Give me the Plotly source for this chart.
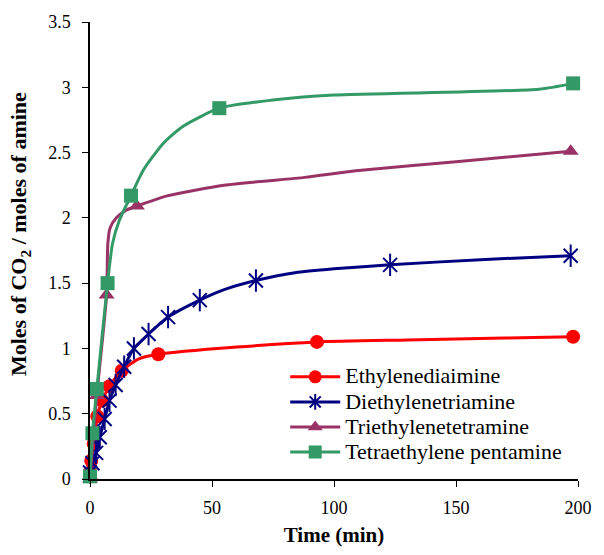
import plotly.graph_objects as go

# Ethylenediamine
eda_x = [0, 0.5, 1.5, 3, 5, 8, 13, 28, 93, 198]
eda_y = [0.05, 0.14, 0.27, 0.48, 0.6, 0.71, 0.83, 0.955, 1.05, 1.09]
eda_line_x = [0, 0.5, 1.5, 3, 5, 8, 13, 20, 28, 60, 93, 130, 170, 198]
eda_line_y = [0.05, 0.14, 0.27, 0.48, 0.6, 0.71, 0.83, 0.92, 0.955, 1.01, 1.05, 1.065, 1.08, 1.09]

# Diethylenetriamine
deta_x = [0, 1, 2.5, 4, 6, 8, 10.5, 14, 18, 24, 32, 45, 68, 123, 197]
deta_y = [0.05, 0.12, 0.2, 0.32, 0.46, 0.6, 0.72, 0.86, 1.0, 1.11, 1.24, 1.37, 1.52, 1.64, 1.71]
deta_line_x = [0, 1, 2.5, 4, 6, 8, 10.5, 14, 18, 24, 32, 45, 55, 68, 84, 100, 123, 160, 197]
deta_line_y = [0.05, 0.12, 0.2, 0.32, 0.46, 0.6, 0.72, 0.86, 1.0, 1.11, 1.24, 1.37, 1.45, 1.52, 1.58, 1.61, 1.64, 1.68, 1.71]

# Triethylenetetramine
teta_x = [0, 2.8, 6.8, 19.2, 197]
teta_y = [0, 0.64, 1.41, 2.09, 2.51]
teta_line_x = [0, 2.8, 6.8, 7.3, 8.2, 10.8, 15, 19.2, 32, 55, 88, 109, 150, 197]
teta_line_y = [0, 0.64, 1.41, 1.8, 1.92, 2.0, 2.06, 2.09, 2.17, 2.25, 2.31, 2.36, 2.43, 2.51]

# Tetraethylene pentamine
tepa_x = [0, 1, 2.8, 7.2, 16.8, 53, 198]
tepa_y = [0.02, 0.35, 0.69, 1.5, 2.17, 2.84, 3.03]
tepa_line_x = [0, 1, 2.8, 7.2, 9.2, 12, 16.8, 22, 30, 38, 53, 74, 100, 184, 198]
tepa_line_y = [0.02, 0.35, 0.69, 1.5, 1.8, 1.98, 2.17, 2.37, 2.57, 2.70, 2.84, 2.90, 2.94, 2.985, 3.03]

names = ["Ethylenediaimine", "Diethylenetriamine", "Triethylenetetramine", "Tetraethylene pentamine"]
colors = ["#FF0000", "#000080", "#993366", "#339966"]
x_title = "Time (min)"
y_title = "Moles of CO<sub>2</sub> / moles of amine"

fig = go.Figure()

series = [
    (eda_x, eda_y, eda_line_x, eda_line_y, "circle"),
    (deta_x, deta_y, deta_line_x, deta_line_y, "star6"),
    (teta_x, teta_y, teta_line_x, teta_line_y, "triangle-up"),
    (tepa_x, tepa_y, tepa_line_x, tepa_line_y, "square"),
]

def legend_label(t):
    return '<span style="font-size:22px">' + t + '</span>'

for (mx, my, lx, ly, sym), name, col in zip(series, names, colors):
    fig.add_trace(go.Scatter(x=lx, y=ly, mode="lines", line=dict(color=col, width=3, shape="spline", smoothing=0.6),
                             showlegend=False, hoverinfo="skip", cliponaxis=False))
    if sym == "star6":
        fig.add_trace(go.Scatter(x=mx, y=my, mode="markers", showlegend=False, cliponaxis=False,
                                 marker=dict(symbol="x-thin-open", size=14, color=col, line=dict(color=col, width=2))))
        fig.add_trace(go.Scatter(x=mx, y=my, mode="markers", showlegend=False, cliponaxis=False,
                                 marker=dict(symbol="line-ns-open", size=16, color=col, line=dict(color=col, width=2))))
        fig.add_trace(go.Scatter(x=[None], y=[None], mode="lines+markers", name=legend_label(name),
                                 line=dict(color=col, width=3),
                                 marker=dict(symbol="asterisk-open", size=13, color=col, line=dict(color=col, width=2))))
    else:
        fig.add_trace(go.Scatter(x=mx, y=my, mode="markers", showlegend=False, cliponaxis=False,
                                 marker=dict(symbol=sym, size=14, color=col, line=dict(width=0))))
        fig.add_trace(go.Scatter(x=[None], y=[None], mode="lines+markers", name=legend_label(name),
                                 line=dict(color=col, width=3),
                                 marker=dict(symbol=sym, size=13, color=col)))

font_family = "Liberation Serif"
fig.update_layout(
    width=604, height=555,
    margin=dict(l=90, r=14, t=19, b=70),
    plot_bgcolor="white", paper_bgcolor="white",
    font=dict(family=font_family, size=18, color="black"),
    showlegend=True,
    legend=dict(x=0.40, y=0.262, xanchor="left", yanchor="top", bgcolor="rgba(0,0,0,0)",
                font=dict(family=font_family, size=17, color="black"),
                tracegroupgap=0, itemwidth=50),
    xaxis=dict(range=[0, 200], tickmode="linear", tick0=0, dtick=50, showgrid=False, zeroline=False,
               showline=True, linecolor="black", linewidth=1.5, ticks="outside", ticklen=6, tickcolor="black",
               tickfont=dict(family=font_family, size=18), ticklabelstandoff=6,
               title=dict(text="<b>" + x_title + "</b>", font=dict(family=font_family, size=21), standoff=10)),
    yaxis=dict(range=[0, 3.5], tickmode="linear", tick0=0, dtick=0.5, showgrid=False, zeroline=False,
               showline=True, linecolor="black", linewidth=1.5, ticks="outside", ticklen=6, tickcolor="black",
               tickfont=dict(family=font_family, size=18), ticklabelstandoff=8),
    annotations=[dict(text="<b>" + y_title + "</b>", textangle=-90, showarrow=False,
                      xref="paper", yref="paper", x=0, y=0.536, xanchor="center", yanchor="middle",
                      xshift=-70, font=dict(family=font_family, size=22, color="black"))],
)

fig.write_html("out.html")
